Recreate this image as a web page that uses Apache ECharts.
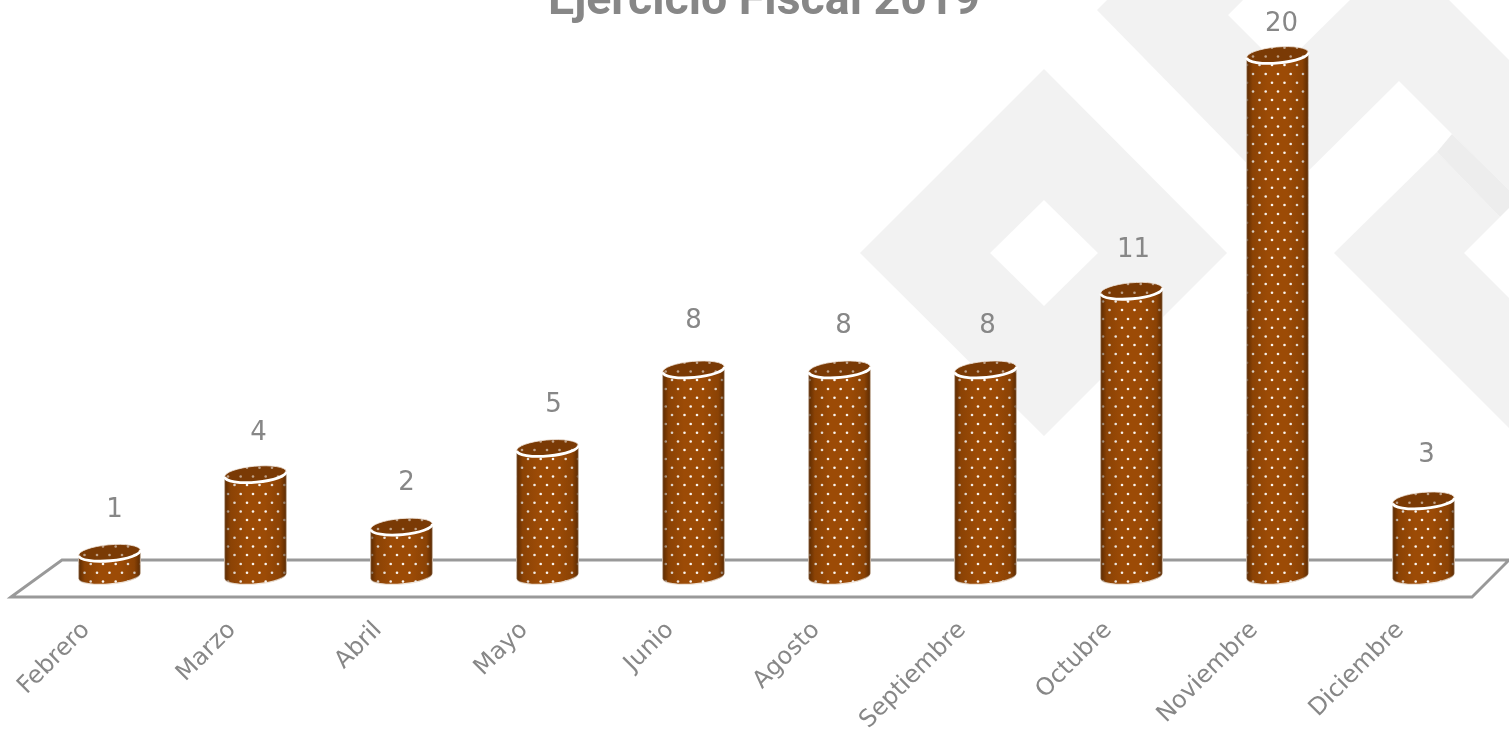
<!DOCTYPE html>
<html><head><meta charset="utf-8">
<style>html,body{margin:0;padding:0;background:#fff}#c{width:1509px;height:730px}</style>
<script src="https://cdn.jsdelivr.net/npm/echarts@6/dist/echarts.min.js"></script>
</head><body><div id="c"></div>
<script>
const categories = ['Febrero','Marzo','Abril','Mayo','Junio','Agosto','Septiembre','Octubre','Noviembre','Diciembre'];
const values = [1,4,2,5,8,8,8,11,20,3];
const titleText = 'Ejercicio Fiscal 2019';
// small hand placement of the value labels: [dx, dy] from the cylinder's top
const labelNudge = [[5,-43],[3,-41],[5,-43],[6,-43],[0,-48],[4,-43],[2,-43],[2,-41],[4,-31],[3,-45]];

const GREY = '#878787', BG = '#f2f2f2', BAND = '#ededed';

function dotTile(){
  const c = document.createElement('canvas'); c.width = 25; c.height = 35;
  const x = c.getContext('2d'); x.fillStyle = 'rgba(255,255,255,0.95)';
  [[3,4],[9.5,12.7],[15.7,4],[22,12.7],[3,21.5],[9.5,30],[15.7,21.5],[22,30]].forEach(p=>{
    x.beginPath(); x.arc(p[0],p[1],1.3,0,Math.PI*2); x.fill();
  });
  return c;
}
const pattern = {image: dotTile(), repeat: 'repeat'};

function poly(points, fill, z){ return {type:'polygon', silent:true, z:z||0, shape:{points}, style:{fill}}; }

function renderCyl(params, api){
  const v = api.value(1);
  const top = api.coord([api.value(0), v]);
  const base = api.coord([api.value(0), 0]);
  const band = api.size([1,0])[0];
  const rx = band*0.211, ry = 8, tilt = 2.8;
  const cx = top[0], ty = top[1], by = base[1]-3;
  const L = cx-rx, R = cx+rx;
  const d = 'M'+L+' '+(ty+tilt)+' L'+L+' '+(by+tilt)
    +' A'+rx+' '+ry+' -5 0 0 '+R+' '+(by-tilt)
    +' L'+R+' '+(ty-tilt)
    +' A'+rx+' '+ry+' -5 0 1 '+L+' '+(ty+tilt)+' Z';
  const rim = 'M'+L+' '+(ty+tilt)+' A'+rx+' '+ry+' -5 0 0 '+R+' '+(ty-tilt);
  const capD = rim+' A'+rx+' '+ry+' -5 0 0 '+L+' '+(ty+tilt)+' Z';
  const shade = {type:'linear',x:0,y:0,x2:1,y2:0,colorStops:[
    {offset:0,color:'rgba(70,32,0,0.75)'},{offset:.1,color:'rgba(70,32,0,0.2)'},{offset:.35,color:'rgba(70,32,0,0)'},
    {offset:.65,color:'rgba(70,32,0,0)'},{offset:.9,color:'rgba(70,32,0,0.2)'},{offset:1,color:'rgba(70,32,0,0.75)'}]};
  const path = (pathData, style)=>({type:'path', shape:{pathData}, style});
  const n = labelNudge[params.dataIndex];
  return {type:'group', children:[
    path(d,{fill:'#9c4b06', stroke:'#f0e4d8', lineWidth:1.2}),
    path(d,{fill:pattern}),
    path(d,{fill:shade}),
    path(capD,{fill:'#7a3a05'}),
    path(capD,{fill:pattern, opacity:.55}),
    path(capD,{fill:'none', stroke:'#f3e9df', lineWidth:.8}),
    path(rim,{fill:'none', stroke:'#ffffff', lineWidth:2.8}),
    {type:'text', style:{text:String(v), x:cx+n[0], y:ty+n[1], align:'center', verticalAlign:'middle',
      fill:GREY, font:'26px "DejaVu Sans"'}}
  ]};
}

const chart = echarts.init(document.getElementById('c'), null, {renderer:'canvas'});
chart.setOption({
  animation:false,
  backgroundColor:'#fff',
  title:{text:titleText, left:543, top:-26,
    textStyle:{fontFamily:'Roboto', fontWeight:'bold', fontSize:46.5, color:GREY}},
  grid:{left:36.5, right:12.5, top:55, bottom:151, outerBoundsMode:'none', containLabel:false},
  xAxis:{type:'category', data:categories, axisLine:{show:false}, axisTick:{show:false},
    axisLabel:{rotate:45, interval:0, margin:24, color:GREY, fontSize:24, fontFamily:'DejaVu Sans', padding:[0,33,0,0]}},
  yAxis:{type:'value', min:0, max:20, show:false, splitLine:{show:false}},
  graphic:{elements:[
    {type:'polygon', silent:true, z:0, shape:{points:[[1044,69],[1227,253],[1044,436],[860,253],[1044,69],[1044,200],[990,253],[1044,306],[1098,253],[1044,200]]}, style:{fill:BG}},
    poly([[1097,10],[1107,0],[1243,0],[1228,15],[1281,68],[1350,0],[1449,0],[1509,60],[1509,190],[1452,134],[1399,81],[1281,198]],BG),
    poly([[1437,152],[1334,253],[1509,428],[1509,298],[1464,253],[1500,217]],BG),
    poly([[1452,134],[1509,190],[1509,208],[1500,217],[1437,152]],BAND),
    {type:'polygon', silent:true, z:1, shape:{points:[[11,597],[62,560],[1509,560],[1472,597]]},
      style:{fill:'none', stroke:'#999999', lineWidth:2.8}}
  ]},
  series:[{type:'custom', renderItem:renderCyl, clip:false, z:5,
    encode:{x:0,y:1}, data:categories.map((c,i)=>[i,values[i]])}]
});
</script></body></html>
